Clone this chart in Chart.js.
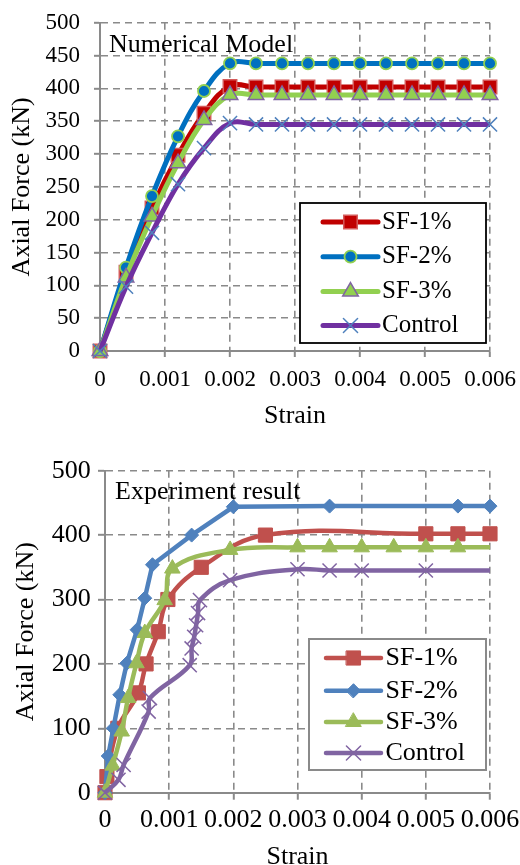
<!DOCTYPE html>
<html><head><meta charset="utf-8">
<script src="https://cdn.jsdelivr.net/npm/chart.js@4/dist/chart.umd.min.js"></script>
<style>
html,body{margin:0;padding:0;background:#fff;}
#c1{position:absolute;left:0;top:0;}
#c2{position:absolute;left:0;top:440px;}
</style></head><body>
<canvas id="c1" width="520" height="440"></canvas>
<canvas id="c2" width="520" height="425"></canvas>
<script>
// ---------- DATA ----------
const seriesNames = ['SF-1%', 'SF-2%', 'SF-3%', 'Control'];

// Numerical model (top chart)
const numStrain = [0,0.0004,0.0008,0.0012,0.0016,0.002,0.0024,0.0028,0.0032,0.0036,0.004,0.0044,0.0048,0.0052,0.0056,0.006];
const numSF1 = [0,120,218,298,362,403,402,402,402,402,402,402,402,402,402,402];
const numSF2 = [0,127,236,327,396,438,438,438,438,438,438,438,438,438,438,438];
const numSF3 = [0,112,205,286,352,390,390,390,390,390,390,390,390,390,390,390];
const numCtrl = [0,98,180,254,309,347,345,345,345,345,345,345,345,345,345,345];

// Experiment result (bottom chart)
const expSF1Strain = [0,0.00003,0.0002,0.00052,0.00064,0.00083,0.00098,0.0015,0.0025,0.005,0.0055,0.006];
const expSF1Force  = [0,25,100,155,200,250,300,350,400,402,402,402];
const expSF2Strain = [0,0.00005,0.00013,0.00023,0.00034,0.0005,0.00062,0.00074,0.00135,0.002,0.0035,0.0055,0.006];
const expSF2Force  = [0,57,100,152,201,253,302,354,400,444,445,445,445];
const expSF3Strain = [0,0.00012,0.00026,0.00036,0.00049,0.00062,0.00093,0.00105,0.00195,0.003,0.0035,0.004,0.0045,0.005,0.0055,0.006];
const expSF3Force  = [0,42,95,147,201,248,299,348,377,381,381,381,381,381,381,381];
const expCtrlStrain = [0,0.00021,0.00029,0.00068,0.0007,0.00132,0.00135,0.00139,0.00142,0.00145,0.00148,0.00195,0.003,0.0035,0.004,0.005,0.006];
const expCtrlForce  = [0,20,43,126,147,198,224,242,260,279,299,330,347,345,345,345,345];

// Ticks
const strainTicks = [0,0.001,0.002,0.003,0.004,0.005,0.006];
const strainTickLabels = ['0','0.001','0.002','0.003','0.004','0.005','0.006'];
const numForceTicks = [0,50,100,150,200,250,300,350,400,450,500];
const expForceTicks = [0,100,200,300,400,500];

const chartTitles = ['Numerical Model', 'Experiment result'];
const xTitle = 'Strain';
const yTitle = 'Axial Force (kN)';

// ---------- HELPERS ----------
const FONT = "'Liberation Serif', 'Times New Roman', serif";
const pts = (xs, ys) => xs.map((x, i) => ({x: x, y: ys[i]}));

function drawMarker(ctx, style, r, x, y, fill, stroke, bw) {
  ctx.save();
  ctx.fillStyle = fill; ctx.strokeStyle = stroke; ctx.lineWidth = bw;
  ctx.beginPath();
  if (style === 'circle') {
    ctx.arc(x, y, r, 0, Math.PI * 2);
  } else if (style === 'rect') {
    const h = r * Math.SQRT1_2;
    ctx.rect(x - h, y - h, 2 * h, 2 * h);
  } else if (style === 'rectRot') {
    ctx.moveTo(x - r, y); ctx.lineTo(x, y - r); ctx.lineTo(x + r, y); ctx.lineTo(x, y + r); ctx.closePath();
  } else if (style === 'triangle') {
    let a = 0;
    ctx.moveTo(x + Math.sin(a) * r, y - Math.cos(a) * r);
    a += 2 * Math.PI / 3; ctx.lineTo(x + Math.sin(a) * r, y - Math.cos(a) * r);
    a += 2 * Math.PI / 3; ctx.lineTo(x + Math.sin(a) * r, y - Math.cos(a) * r);
    ctx.closePath();
  } else if (style === 'crossRot') {
    const o = r * Math.SQRT1_2;
    ctx.moveTo(x - o, y - o); ctx.lineTo(x + o, y + o);
    ctx.moveTo(x - o, y + o); ctx.lineTo(x + o, y - o);
    ctx.stroke(); ctx.restore(); return;
  }
  ctx.fill();
  if (bw > 0) ctx.stroke();
  ctx.restore();
}

const boxLegend = {
  id: 'boxLegend',
  afterDraw(chart, args, o) {
    const ctx = chart.ctx;
    ctx.save();
    const [x1, y1, x2, y2] = o.box;
    ctx.fillStyle = '#fff';
    ctx.fillRect(x1, y1, x2 - x1, y2 - y1);
    ctx.strokeStyle = o.borderColor; ctx.lineWidth = o.borderWidth;
    ctx.strokeRect(x1, y1, x2 - x1, y2 - y1);
    [0, 1, 2, 3].forEach((i, k) => {
      const ds = chart.data.datasets[i];
      const y = o.rows[k];
      ctx.beginPath();
      ctx.strokeStyle = ds.borderColor; ctx.lineWidth = ds.borderWidth; ctx.lineCap = 'round';
      ctx.moveTo(o.lineX[0], y); ctx.lineTo(o.lineX[1], y); ctx.stroke();
      drawMarker(ctx, ds.pointStyle, ds.mr, o.markerX, y, ds.pointBackgroundColor, ds.pointBorderColor, ds.pointBorderWidth);
      ctx.fillStyle = '#000'; ctx.font = o.font; ctx.textBaseline = 'middle'; ctx.textAlign = 'left';
      ctx.fillText(ds.label, o.textX, y);
    });
    ctx.restore();
  }
};

const innerTitle = {
  id: 'innerTitle',
  afterDatasetsDraw(chart, args, o) {
    const ctx = chart.ctx;
    ctx.save();
    ctx.fillStyle = '#000'; ctx.font = o.font; ctx.textBaseline = 'middle'; ctx.textAlign = 'left';
    ctx.fillText(o.text, o.x, o.y);
    ctx.restore();
  }
};

function scalesFor(cfg) {
  return {
    x: {
      type: 'linear', min: 0, max: 0.006,
      afterBuildTicks: s => { s.ticks = strainTicks.map(v => ({value: v})); },
      afterFit: s => { s.height = cfg.xHeight; s.paddingLeft = 0; s.paddingRight = 0; s.paddingTop = 0; s.paddingBottom = 0; },
      ticks: { autoSkip: false, maxRotation: 0, color: '#000', padding: cfg.xTickPad,
               font: {family: FONT, size: cfg.tickSize},
               callback: (v, i) => strainTickLabels[i] },
      grid: { color: '#8a8a8a', lineWidth: 1.6, tickLength: cfg.tickLen, tickColor: '#8a8a8a', tickWidth: 2, tickBorderDash: [] },
      border: { display: true, color: '#8a8a8a', width: 2, dash: [7, 5] },
      title: { display: true, text: xTitle, color: '#000', font: {family: FONT, size: 26, lineHeight: cfg.xTitleLH}, padding: {top: 0, bottom: cfg.xTitlePad} }
    },
    y: {
      type: 'linear', min: 0, max: 500,
      afterBuildTicks: s => { s.ticks = cfg.yTicks.map(v => ({value: v})); },
      afterFit: s => { s.width = cfg.yWidth; s.paddingTop = 0; s.paddingBottom = 0; s.paddingLeft = 0; s.paddingRight = 0; },
      ticks: { autoSkip: false, color: '#000', padding: cfg.yTickPad,
               font: {family: FONT, size: cfg.tickSize},
               callback: (v, i) => String(cfg.yTicks[i]) },
      grid: { color: '#8a8a8a', lineWidth: 1.6, tickLength: cfg.tickLen, tickColor: '#8a8a8a', tickWidth: 2, tickBorderDash: [] },
      border: { display: true, color: '#8a8a8a', width: 2, dash: [7, 5] },
      title: { display: true, text: yTitle, color: '#000', font: {family: FONT, size: 26, lineHeight: 1.2}, padding: {top: cfg.yTitlePad, bottom: 0} }
    }
  };
}

// ---------- TOP CHART ----------
new Chart(document.getElementById('c1'), {
  type: 'line',
  data: {
    datasets: [
      { label: seriesNames[0], data: pts(numStrain, numSF1), order: 4, mr: 9.5,
        borderColor: '#C00000', borderWidth: 5, tension: 0.4, clip: false,
        pointStyle: 'rect', pointRadius: 9.5, pointBackgroundColor: '#C00000', pointBorderColor: '#D45A5A', pointBorderWidth: 1.5 },
      { label: seriesNames[1], data: pts(numStrain, numSF2), order: 3, mr: 6,
        borderColor: '#0070C0', borderWidth: 5, tension: 0.4, clip: false,
        pointStyle: 'circle', pointRadius: 6, pointBackgroundColor: '#0070C0', pointBorderColor: '#92D050', pointBorderWidth: 1.8 },
      { label: seriesNames[2], data: pts(numStrain, numSF3), order: 2, mr: 9,
        borderColor: '#92D050', borderWidth: 5, tension: 0.4, clip: false,
        pointStyle: 'triangle', pointRadius: 9, pointBackgroundColor: '#92D050', pointBorderColor: '#8064A2', pointBorderWidth: 1.5 },
      { label: seriesNames[3], data: pts(numStrain, numCtrl), order: 1, mr: 10,
        borderColor: '#7030A0', borderWidth: 5, tension: 0.4, clip: false,
        pointStyle: 'crossRot', pointRadius: 10, pointBackgroundColor: '#4F81BD', pointBorderColor: '#4F81BD', pointBorderWidth: 1.5 }
    ]
  },
  options: {
    responsive: false, animation: false, devicePixelRatio: 1,
    layout: { padding: {left: 0, right: 30, top: 22.7, bottom: 0} },
    plugins: {
      legend: {display: false}, tooltip: {enabled: false}, title: {display: false},
      boxLegend: { box: [300, 203, 486, 343], rows: [222, 256.7, 291.5, 325.5], lineX: [323, 378], markerX: 350.5, textX: 382,
                   borderColor: '#000', borderWidth: 1.8, font: "25px " + FONT },
      innerTitle: { text: chartTitles[0], x: 109, y: 45, font: "26px " + FONT }
    },
    scales: scalesFor({ xHeight: 89, xTickPad: 9, tickSize: 23, tickLen: 6, xTitleLH: 1.2, xTitlePad: 8.5,
                        yTicks: numForceTicks, yWidth: 100, yTickPad: 14, yTitlePad: 7 })
  },
  plugins: [boxLegend, innerTitle]
});

// ---------- BOTTOM CHART ----------
new Chart(document.getElementById('c2'), {
  type: 'line',
  data: {
    datasets: [
      { label: seriesNames[0], data: pts(expSF1Strain, expSF1Force), order: 4, mr: 10,
        borderColor: '#C0504D', borderWidth: 4.5, tension: 0.4, clip: false,
        pointStyle: 'rect', pointRadius: 10, pointBackgroundColor: '#C0504D', pointBorderColor: '#C0504D', pointBorderWidth: 1 },
      { label: seriesNames[1], data: pts(expSF2Strain, expSF2Force), order: 3, mr: 7,
        borderColor: '#4F81BD', borderWidth: 4.5, tension: 0, clip: false,
        pointStyle: 'rectRot', pointRadius: 7, pointBackgroundColor: '#4F81BD', pointBorderColor: '#4F81BD', pointBorderWidth: 1 },
      { label: seriesNames[2], data: pts(expSF3Strain, expSF3Force), order: 2, mr: 9,
        borderColor: '#9BBB59', borderWidth: 4.5, tension: 0.4, clip: false,
        pointStyle: 'triangle', pointRadius: c => (c.dataIndex === expSF3Strain.length - 1 ? 0 : 9),
        pointBackgroundColor: '#9BBB59', pointBorderColor: '#9BBB59', pointBorderWidth: 1 },
      { label: seriesNames[3], data: pts(expCtrlStrain, expCtrlForce), order: 1, mr: 10,
        borderColor: '#8064A2', borderWidth: 4.5, tension: 0.4, clip: false,
        pointStyle: 'crossRot', pointRadius: c => (c.dataIndex === expCtrlStrain.length - 1 ? 0 : 10),
        pointBackgroundColor: '#8064A2', pointBorderColor: '#8064A2', pointBorderWidth: 1.5 }
    ]
  },
  options: {
    responsive: false, animation: false, devicePixelRatio: 1,
    layout: { padding: {left: 0, right: 30, top: 30.7, bottom: 0} },
    plugins: {
      legend: {display: false}, tooltip: {enabled: false}, title: {display: false},
      boxLegend: { box: [309, 199, 486, 330], rows: [218, 250.7, 282, 313], lineX: [326, 381], markerX: 353.5, textX: 385.5,
                   borderColor: '#8a8a8a', borderWidth: 2, font: "26px " + FONT },
      innerTitle: { text: chartTitles[1], x: 115, y: 51.7, font: "26px " + FONT }
    },
    scales: scalesFor({ xHeight: 72.3, xTickPad: 4.7, tickSize: 26, tickLen: 7, xTitleLH: 0.6, xTitlePad: 0.5,
                        yTicks: expForceTicks, yWidth: 105, yTickPad: 7.3, yTitlePad: 11 })
  },
  plugins: [boxLegend, innerTitle]
});
</script>
</body></html>
